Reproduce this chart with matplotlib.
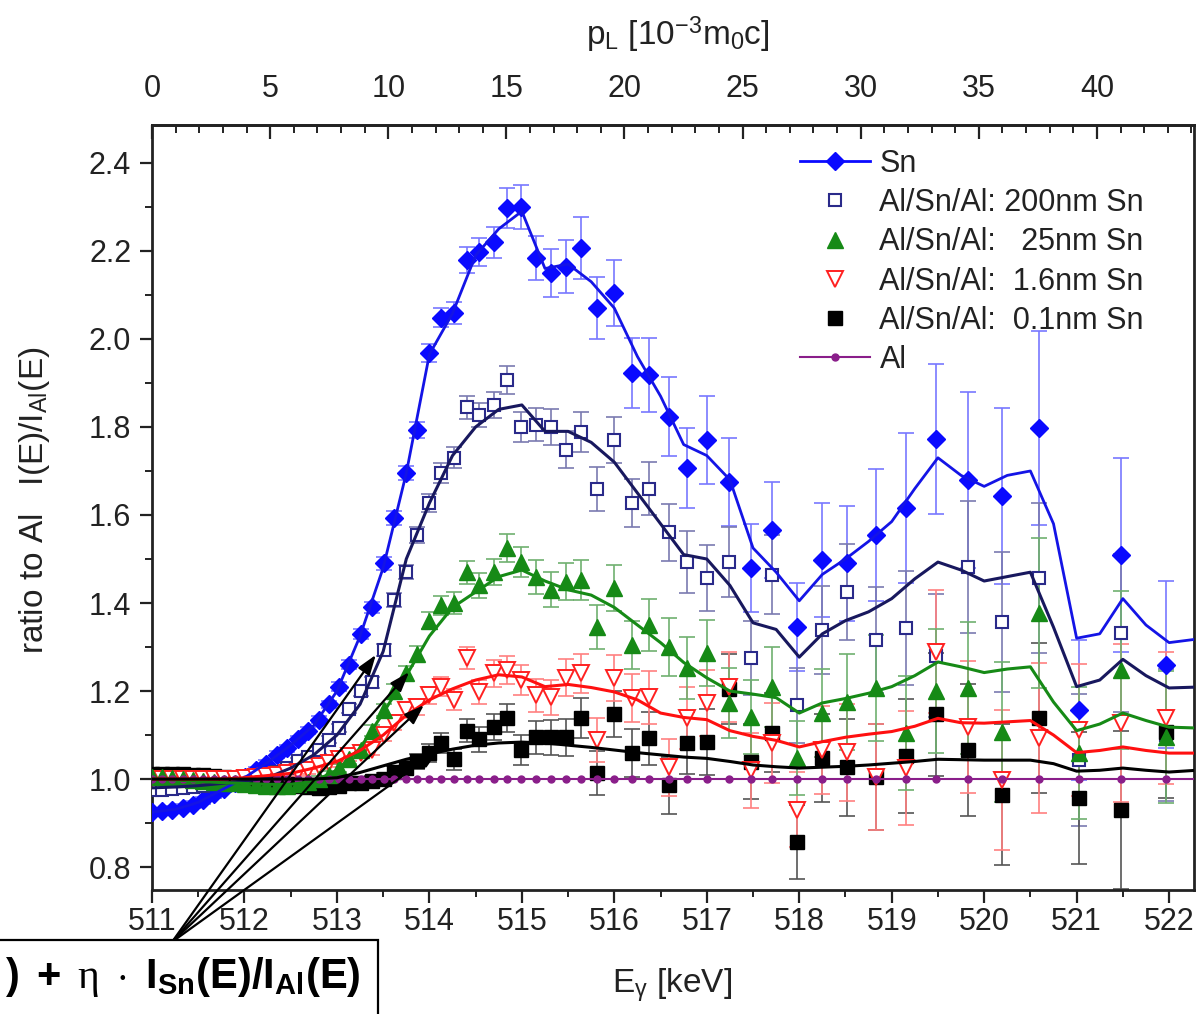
import numpy as np
import matplotlib.pyplot as plt
from matplotlib.lines import Line2D
from matplotlib.patches import Rectangle
from matplotlib.ticker import MultipleLocator, FixedLocator

plt.rcParams['font.family'] = ['Liberation Sans', 'DejaVu Sans']
plt.rcParams['mathtext.fontset'] = 'custom'
plt.rcParams['mathtext.rm'] = 'Liberation Sans'
plt.rcParams['mathtext.it'] = 'Liberation Serif'
plt.rcParams['mathtext.bf'] = 'Liberation Sans:bold'

# photon energy of each bin [keV]
energy = [511.00, 511.11, 511.22, 511.33, 511.44, 511.55, 511.67, 511.78, 511.90, 512.01,
          512.12, 512.23, 512.35, 512.46, 512.58, 512.69, 512.81, 512.91, 513.02, 513.13,
          513.26, 513.38, 513.51, 513.62, 513.75, 513.87, 514.00, 514.13, 514.27, 514.41,
          514.54, 514.70, 514.84, 514.99, 515.15, 515.32, 515.48, 515.64, 515.81, 516.00,
          516.19, 516.38, 516.59, 516.79, 517.00, 517.24, 517.48, 517.71, 517.98, 518.25,
          518.52, 518.83, 519.16, 519.48, 519.82, 520.19, 520.59, 521.03, 521.48, 521.97]

sn = [0.925, 0.927, 0.930, 0.935, 0.942, 0.952, 0.965, 0.978, 0.990, 1.005,
      1.020, 1.035, 1.055, 1.070, 1.090, 1.110, 1.135, 1.170, 1.210, 1.260,
      1.330, 1.390, 1.490, 1.593, 1.695, 1.793, 1.968, 2.048, 2.060, 2.180,
      2.198, 2.220, 2.298, 2.300, 2.184, 2.150, 2.164, 2.207, 2.070, 2.105,
      1.923, 1.918, 1.823, 1.707, 1.770, 1.675, 1.480, 1.566, 1.345, 1.498,
      1.490, 1.555, 1.616, 1.773, 1.680, 1.643, 1.798, 1.157, 1.509, 1.260]
sn_err = [0.008, 0.008, 0.008, 0.008, 0.008, 0.008, 0.008, 0.008, 0.008, 0.008,
          0.008, 0.008, 0.008, 0.008, 0.008, 0.008, 0.008, 0.008, 0.010, 0.010,
          0.012, 0.012, 0.014, 0.015, 0.016, 0.018, 0.020, 0.022, 0.025, 0.030,
          0.032, 0.035, 0.045, 0.050, 0.050, 0.055, 0.060, 0.070, 0.070, 0.075,
          0.080, 0.085, 0.090, 0.090, 0.100, 0.100, 0.100, 0.110, 0.100, 0.130,
          0.130, 0.150, 0.170, 0.170, 0.200, 0.200, 0.220, 0.160, 0.220, 0.190]

sn_200nm = [0.975, 0.975, 0.978, 0.980, 0.982, 0.985, 0.988, 0.990, 0.993, 0.997,
            1.000, 1.005, 1.015, 1.025, 1.040, 1.050, 1.066, 1.089, 1.116, 1.160,
            1.200, 1.220, 1.293, 1.407, 1.470, 1.555, 1.627, 1.695, 1.730, 1.845,
            1.827, 1.850, 1.907, 1.800, 1.805, 1.800, 1.748, 1.789, 1.660, 1.770,
            1.627, 1.660, 1.561, 1.493, 1.457, 1.493, 1.275, 1.464, 1.168, 1.339,
            1.425, 1.316, 1.343, 1.280, 1.482, 1.357, 1.457, 1.043, 1.332, 1.100]

sn_25nm = [1.005, 1.005, 1.003, 1.000, 0.998, 0.995, 0.993, 0.990, 0.990, 0.988,
           0.987, 0.985, 0.985, 0.985, 0.988, 0.993, 1.000, 1.010, 1.025, 1.045,
           1.066, 1.110, 1.157, 1.200, 1.240, 1.285, 1.360, 1.395, 1.400, 1.470,
           1.440, 1.470, 1.525, 1.493, 1.459, 1.430, 1.448, 1.452, 1.345, 1.434,
           1.305, 1.350, 1.300, 1.252, 1.286, 1.173, 1.141, 1.209, 1.048, 1.150,
           1.175, 1.207, 1.105, 1.200, 1.207, 1.107, 1.377, 1.059, 1.248, 1.095]

sn_1p6nm = [1.000, 1.000, 1.000, 1.000, 1.000, 1.000, 1.000, 1.000, 1.000, 1.002,
            1.005, 1.008, 1.010, 1.013, 1.015, 1.020, 1.030, 1.036, 1.045, 1.052,
            1.060, 1.066, 1.100, 1.127, 1.157, 1.164, 1.190, 1.210, 1.180, 1.275,
            1.198, 1.240, 1.248, 1.225, 1.190, 1.186, 1.230, 1.240, 1.089, 1.230,
            1.184, 1.186, 1.027, 1.139, 1.173, 1.209, 1.020, 1.082, 0.930, 1.066,
            1.061, 1.005, 1.025, 1.289, 1.118, 0.998, 1.093, 1.111, 1.127, 1.139]

sn_0p1nm = [1.012, 1.012, 1.012, 1.012, 1.010, 1.010, 1.008, 1.005, 1.000, 0.998,
            0.995, 0.993, 0.990, 0.988, 0.985, 0.983, 0.980, 0.982, 0.985, 0.990,
            0.990, 0.995, 1.000, 1.015, 1.025, 1.040, 1.059, 1.082, 1.045, 1.110,
            1.090, 1.118, 1.139, 1.066, 1.095, 1.095, 1.095, 1.139, 1.014, 1.147,
            1.059, 1.093, 0.986, 1.082, 1.084, 1.205, 1.039, 1.105, 0.857, 1.048,
            1.027, 1.005, 1.053, 1.147, 1.066, 0.964, 1.139, 0.957, 0.930, 1.107]

film_err = [0.008, 0.008, 0.008, 0.008, 0.008, 0.008, 0.008, 0.008, 0.008, 0.008,
            0.008, 0.008, 0.008, 0.008, 0.008, 0.008, 0.008, 0.008, 0.010, 0.010,
            0.012, 0.012, 0.014, 0.015, 0.016, 0.018, 0.020, 0.022, 0.024, 0.026,
            0.028, 0.030, 0.032, 0.035, 0.038, 0.040, 0.042, 0.045, 0.050, 0.052,
            0.055, 0.060, 0.065, 0.070, 0.075, 0.080, 0.085, 0.090, 0.085, 0.100,
            0.110, 0.120, 0.130, 0.140, 0.150, 0.160, 0.170, 0.150, 0.180, 0.150]

# Al normalised to itself
al = [1.0] * len(energy)

# smooth model curves
fit_energy = [511.00, 511.25, 511.50, 511.75, 512.00, 512.25, 512.50, 512.75, 513.00, 513.25,
              513.50, 513.75, 514.00, 514.25, 514.50, 514.75, 515.00, 515.25, 515.50, 515.75,
              516.00, 516.25, 516.50, 516.75, 517.00, 517.25, 517.50, 517.75, 518.00, 518.25,
              518.50, 518.75, 519.00, 519.25, 519.50, 519.75, 520.00, 520.25, 520.50, 520.75,
              521.00, 521.25, 521.50, 521.75, 522.00, 522.30]
fit_sn = [0.925, 0.931, 0.947, 0.975, 1.003, 1.038, 1.077, 1.122, 1.200, 1.325,
          1.480, 1.695, 1.965, 2.058, 2.190, 2.250, 2.290, 2.160, 2.170, 2.130,
          2.070, 1.960, 1.870, 1.760, 1.735, 1.680, 1.525, 1.470, 1.405, 1.465,
          1.500, 1.540, 1.585, 1.660, 1.730, 1.690, 1.665, 1.690, 1.700, 1.580,
          1.320, 1.330, 1.410, 1.350, 1.310, 1.318]
fit_200nm = [0.980, 0.982, 0.985, 0.990, 0.995, 1.003, 1.025, 1.055, 1.100, 1.170,
             1.290, 1.500, 1.627, 1.735, 1.800, 1.840, 1.850, 1.790, 1.790, 1.765,
             1.720, 1.650, 1.580, 1.510, 1.500, 1.440, 1.355, 1.340, 1.277, 1.330,
             1.360, 1.380, 1.410, 1.455, 1.493, 1.475, 1.450, 1.460, 1.470, 1.345,
             1.210, 1.225, 1.272, 1.235, 1.207, 1.209]
fit_25nm = [1.000, 0.998, 0.995, 0.992, 0.990, 0.988, 0.988, 0.995, 1.020, 1.070,
            1.150, 1.235, 1.325, 1.390, 1.425, 1.460, 1.475, 1.450, 1.430, 1.418,
            1.390, 1.350, 1.310, 1.265, 1.230, 1.200, 1.193, 1.185, 1.150, 1.173,
            1.183, 1.195, 1.210, 1.235, 1.266, 1.255, 1.242, 1.250, 1.255, 1.175,
            1.110, 1.125, 1.150, 1.133, 1.118, 1.116]
fit_1p6nm = [1.000, 1.000, 1.000, 1.000, 1.003, 1.008, 1.013, 1.025, 1.040, 1.065,
             1.100, 1.145, 1.180, 1.205, 1.225, 1.237, 1.232, 1.210, 1.215, 1.208,
             1.198, 1.180, 1.150, 1.140, 1.135, 1.110, 1.097, 1.088, 1.073, 1.085,
             1.095, 1.102, 1.108, 1.120, 1.138, 1.128, 1.127, 1.130, 1.133, 1.100,
             1.060, 1.065, 1.073, 1.065, 1.059, 1.059]
fit_0p1nm = [1.000, 1.000, 1.000, 1.000, 1.000, 1.000, 1.000, 1.000, 1.003, 1.015,
             1.030, 1.045, 1.057, 1.068, 1.077, 1.082, 1.084, 1.082, 1.077, 1.072,
             1.066, 1.060, 1.055, 1.050, 1.047, 1.040, 1.032, 1.028, 1.025, 1.027,
             1.029, 1.032, 1.036, 1.040, 1.045, 1.044, 1.043, 1.043, 1.043, 1.035,
             1.018, 1.020, 1.025, 1.020, 1.016, 1.020]

# where the four arrows point (energy, ratio)
arrow_tips = [(513.42, 1.282), (513.78, 1.243), (513.94, 1.168), (514.10, 1.066)]

labels = ["Sn", "Al/Sn/Al: 200nm Sn", "Al/Sn/Al:   25nm Sn",
          "Al/Sn/Al:  1.6nm Sn", "Al/Sn/Al:  0.1nm Sn", "Al"]
top_ticks = [0, 5, 10, 15, 20, 25, 30, 35, 40]

blue   = "#0a0aff"
navy   = "#2a2a8a"
green  = "#168a16"
red    = "#ff2020"
purple = "#8a1e8a"
ink    = "#222222"

fig = plt.figure(figsize=(11.98, 10.14), dpi=100)
ax = fig.add_axes([0.1269, 0.1223, 0.8698, 0.7544])

# error bars first, markers on top
ax.errorbar(energy, sn, yerr=sn_err, fmt='none', ecolor="#7878ff", elinewidth=1.2, capsize=6, capthick=1.2, zorder=2)
ax.errorbar(energy, sn_200nm, yerr=film_err, fmt='none', ecolor="#7a7ab0", elinewidth=1.2, capsize=6, capthick=1.2, zorder=2)
ax.errorbar(energy, sn_0p1nm, yerr=film_err, fmt='none', ecolor="#555555", elinewidth=1.2, capsize=6, capthick=1.2, zorder=2)
ax.errorbar(energy, sn_1p6nm, yerr=film_err, fmt='none', ecolor="#ff8080", elinewidth=1.2, capsize=6, capthick=1.2, zorder=2)
ax.errorbar(energy, sn_25nm, yerr=film_err, fmt='none', ecolor="#6fb06f", elinewidth=1.2, capsize=6, capthick=1.2, zorder=2)

ax.plot(energy, sn, ls='none', marker='D', ms=9, color=blue, zorder=3)
ax.plot(energy, sn_200nm, ls='none', marker='s', ms=8.5, mfc='white', mec=navy, mew=1.5, zorder=3)
ax.plot(energy, sn_0p1nm, ls='none', marker='s', ms=10, color='black', zorder=3)
ax.plot(energy, sn_1p6nm, ls='none', marker='v', ms=11, mfc='white', mec=red, mew=1.4, zorder=3)
ax.plot(energy, sn_25nm, ls='none', marker='^', ms=11, color=green, zorder=3)

ax.axhline(al[0], color=purple, lw=1.5, zorder=4)
ax.plot(energy, al, ls='none', marker='o', ms=5, color=purple, zorder=4)

ax.plot(fit_energy, fit_sn, color="#1414e6", lw=2, zorder=5)
ax.plot(fit_energy, fit_200nm, color="#18185e", lw=2.2, zorder=5)
ax.plot(fit_energy, fit_25nm, color=green, lw=2.2, zorder=5)
ax.plot(fit_energy, fit_1p6nm, color="#ff1010", lw=2.2, zorder=5)
ax.plot(fit_energy, fit_0p1nm, color='black', lw=2.2, zorder=5)

ax.set_xlim(511.0, 522.27)
ax.set_ylim(0.748, 2.486)
ax.xaxis.set_major_locator(MultipleLocator(1))
ax.xaxis.set_minor_locator(MultipleLocator(0.5))
ax.yaxis.set_major_locator(MultipleLocator(0.2))
ax.yaxis.set_minor_locator(MultipleLocator(0.1))
ax.yaxis.set_major_formatter(plt.FormatStrFormatter('%.1f'))
ax.tick_params(axis='both', which='major', direction='out', length=9, width=1.6, labelsize=22, colors=ink)
ax.tick_params(axis='both', which='minor', direction='out', length=5, width=1.4, colors=ink)
ax.tick_params(axis='y', which='major', pad=6)
ax.tick_params(axis='x', which='major', pad=3)
for sp in ax.spines.values():
    sp.set_linewidth(2)
    sp.set_color(ink)
# end for

def e_to_p(e):
    return (np.asarray(e) - 511.0) * 2.0 / 0.511

def p_to_e(p):
    return 511.0 + np.asarray(p) * 0.511 / 2.0

top = ax.secondary_xaxis('top', functions=(e_to_p, p_to_e))
top.xaxis.set_major_locator(FixedLocator(top_ticks))
top.xaxis.set_minor_locator(MultipleLocator(1))
top.tick_params(which='major', direction='in', length=10, width=1.6, labelsize=22, pad=15, colors=ink)
top.tick_params(which='minor', direction='in', length=6, width=1.4, colors=ink)
top.spines['top'].set_linewidth(2)
top.spines['top'].set_color(ink)

fig.text(0.566, 1 - 35 / 1014, r'p$_\mathrm{L}$ [10$^\mathrm{-3}$m$_\mathrm{0}$c]', fontsize=24, ha='center', va='center', color=ink)
fig.text(0.561, 1 - 985 / 1014, r'E$_\mathrm{\gamma}$ [keV]', fontsize=24, ha='center', va='center', color=ink)
fig.text(35 / 1198, 1 - 500 / 1014, r'ratio to Al   I(E)/I$_\mathrm{Al}$(E)', fontsize=24, rotation=90, ha='center', va='center', color=ink)

handles = [
    Line2D([], [], color=blue, marker='D', ms=9, lw=2),
    Line2D([], [], ls='none', marker='s', ms=8.5, mfc='white', mec=navy, mew=1.5),
    Line2D([], [], ls='none', marker='^', ms=11, color=green),
    Line2D([], [], ls='none', marker='v', ms=11, mfc='white', mec=red, mew=1.4),
    Line2D([], [], ls='none', marker='s', ms=10, color='black'),
    Line2D([], [], color=purple, marker='o', ms=5, lw=1.5),
]
leg = ax.legend(handles, labels, loc='upper left', bbox_to_anchor=(800 / 1198, 1 - 149 / 1014),
                bbox_transform=fig.transFigure, frameon=False, fontsize=22, handlelength=2.3,
                handletextpad=0.3, labelspacing=0.3, borderpad=0, borderaxespad=0)
for txt in leg.get_texts():
    txt.set_color(ink)
# end for

# arrows from the formula box to the thin-film curves
for tip in arrow_tips:
    ax.annotate('', xy=tip, xycoords='data', xytext=(172 / 1198, 1 - 942 / 1014),
                textcoords='figure fraction', annotation_clip=False, zorder=10,
                arrowprops=dict(arrowstyle='-|>,head_length=1.2,head_width=0.42', color='black',
                                lw=1.6, shrinkA=0, shrinkB=0))
# end for

box = Rectangle((-0.01, -0.01), 378 / 1198 + 0.01, 1 - 940 / 1014 + 0.01, transform=fig.transFigure,
                facecolor='white', edgecolor='black', lw=1.6, zorder=20)
fig.add_artist(box)
fig.text(5 / 1198, 0.0256, r'$\mathbf{)\ +\ }\eta\mathbf{\ \cdot\ I_{Sn}(E)/I_{Al}(E)}$',
         fontsize=30, ha='left', va='baseline', zorder=21)

fig.savefig("out.png", dpi=100)
